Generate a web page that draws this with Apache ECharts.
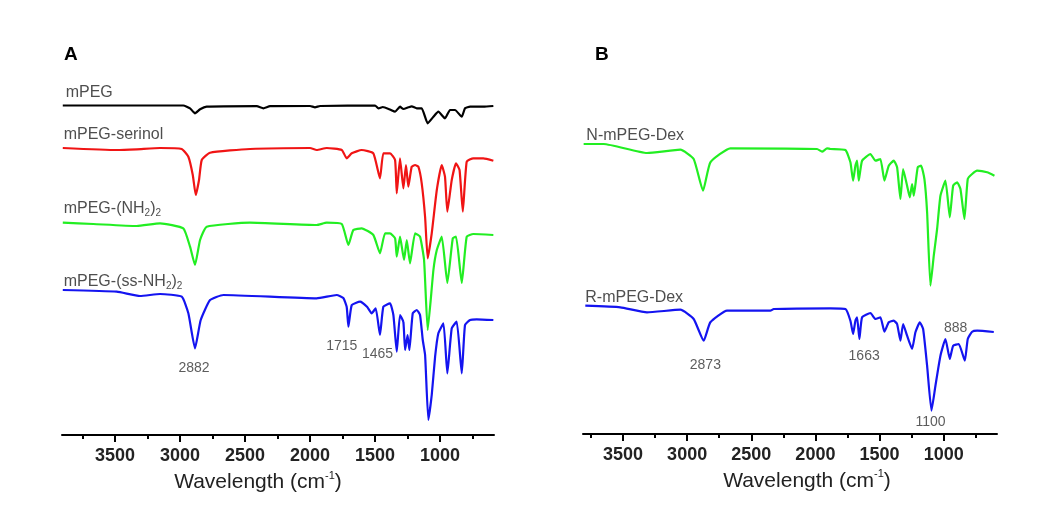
<!DOCTYPE html>
<html><head><meta charset="utf-8">
<script src="https://cdn.jsdelivr.net/npm/echarts@6/dist/echarts.min.js"></script>
<style>html,body{margin:0;padding:0;background:#fff}#c{width:1062px;height:524px}</style>
</head><body><div id="c"></div>
<script>
// ---- tick values ----
const majorTicks = [3500, 3000, 2500, 2000, 1500, 1000];
const minorTicks = [3750, 3250, 2750, 2250, 1750, 1250, 750];
const rangeA = [585, 3908];
const rangeB = [584, 3812];

// ---- spectra: [wavenumber (cm-1), offset transmittance (a.u.)] ----
const mPEG = [[3902,329.5],[3487,329.5],[2975,329.5],[2923,326.7],[2885,321.7],[2846,325.7],[2795,328.3],[2410,328.8],[2359,326.7],[2308,328.8],[2000,329],[1962,327.7],[1923,329],[1500,329.5],[1474,326.7],[1440,328],[1385,325.5],[1346,323.3],[1308,328.3],[1282,326],[1244,327.7],[1218,328.7],[1179,326.7],[1141,326.7],[1095,311.7],[1051,318.3],[1013,323.3],[962,316.7],[923,325],[885,325],[833,318.3],[808,326.7],[769,328.3],[667,328.3],[590,329]];
const mPEGserinol = [[3902,287],[3487,285],[3333,285.7],[3154,287],[2987,286],[2936,278.3],[2902,260],[2879,240],[2854,255],[2833,275],[2769,282.3],[2462,286],[2000,287],[1949,285],[1872,287],[1756,285],[1718,276.7],[1679,281.7],[1603,285],[1513,281.7],[1462,256.7],[1436,281.7],[1385,281.7],[1346,275],[1333,241.7],[1308,276.7],[1282,246.7],[1262,270],[1244,248.3],[1218,268.3],[1192,270],[1167,268.3],[1141,251.7],[1115,218],[1095,176.7],[1064,201.7],[1025,245],[987,270],[962,258.3],[944,223.3],[910,255],[877,271.7],[850,265],[825,223.3],[795,273.3],[744,276.7],[667,276.7],[590,274.3]];
const mPEGNH2 = [[3902,212.3],[3667,211],[3333,209],[3154,211.7],[2975,206.7],[2923,188.3],[2885,170],[2846,195],[2795,208.3],[2462,212.3],[1949,210],[1872,212.3],[1756,211],[1705,190],[1667,205],[1603,206.7],[1513,200],[1462,181.7],[1423,201.7],[1385,201.7],[1346,196.7],[1333,178.3],[1308,198.3],[1277,175],[1256,195],[1231,171.7],[1192,201.7],[1154,198.3],[1123,175],[1095,105],[1051,165],[1025,185],[987,198.3],[944,152],[902,196.7],[877,198.3],[833,152],[795,198.3],[744,201],[590,200]];
const mPEGssNH2 = [[3902,145],[3487,143.3],[3308,139],[3154,141],[2987,138.3],[2936,121.7],[2885,86.7],[2841,115],[2769,135],[2667,140],[1949,136.7],[1795,140],[1744,137],[1718,128],[1705,108.3],[1679,130],[1615,133.3],[1560,128],[1526,121.7],[1495,126.7],[1462,100],[1436,128.3],[1385,131.7],[1359,120],[1333,83.3],[1308,120],[1282,113],[1269,85],[1250,100],[1236,85],[1210,121.7],[1179,125],[1154,120],[1133,95],[1115,80],[1090,15],[1064,40],[1038,78.3],[1013,101.7],[974,111.7],[944,61.7],[910,106.7],[872,113.3],[833,61.7],[808,110],[769,115],[718,115.7],[590,115]];
const NmPEGDex = [[3807,290],[3651,290],[3313,281],[3053,284.3],[2949,275],[2876,243.3],[2819,271.7],[2663,285.7],[1987,285],[1948,282.3],[1909,285.7],[1883,285],[1766,284],[1727,271.7],[1706,253.3],[1688,268.3],[1675,273.3],[1662,253.3],[1636,273.3],[1571,280],[1532,273.3],[1493,275],[1462,253.3],[1428,268.3],[1389,273.3],[1363,266.7],[1337,235],[1316,265],[1285,248.3],[1264,236.7],[1246,250],[1233,238.3],[1202,266.7],[1176,268.3],[1150,255],[1129,221.7],[1103,148.3],[1077,178.3],[1051,205],[1025,238.3],[986,253.3],[952,216.7],[926,248.3],[895,251.7],[869,245],[838,215],[812,255],[778,260],[739,263.3],[661,261.7],[604,258.3]];
const RmPEGDex = [[3794,128.3],[3521,126.7],[3313,121.7],[3053,124.3],[2949,115],[2871,93.3],[2819,111.7],[2689,123.3],[2351,123.3],[2325,125],[1883,125.7],[1766,125],[1727,113.3],[1706,100],[1688,113.3],[1675,116.7],[1657,95],[1636,116.7],[1571,121],[1532,115],[1493,116.7],[1462,102.3],[1428,111.7],[1389,113.3],[1363,110],[1337,93.3],[1316,110],[1285,98.3],[1246,85],[1220,101.7],[1186,111.7],[1160,105],[1129,68.3],[1095,23.3],[1064,48.3],[1025,78.3],[986,95],[952,75],[926,88.3],[882,90],[835,73.3],[812,95],[778,102.3],[739,103.3],[609,102]];

// ---- text labels: [text, wavenumber, value] ----
const seriesLabelsA = [['mPEG',3880,342],['mPEG-serinol',3895,300],['mPEG-(NH{s|2})' + '{s|2}',3895,226.7],['mPEG-(ss-NH{s|2})' + '{s|2}',3895,153.7]];
const seriesLabelsB = [['N-mPEG-Dex',3786,298],['R-mPEG-Dex',3794,136.7]];
const peakLabelsA = [['2882',2892,67.3],['1715',1756,89.3],['1465',1481,80.7]];
const peakLabelsB = [['2873',2858,69.3],['1663',1620,78.3],['1100',1103,11.7],['888',907,105.7]];

const FONT = 'Liberation Sans, Arial, sans-serif';
const chart = echarts.init(document.getElementById('c'), null, {renderer: 'canvas'});

function mainX(grid, range, padding, gap) {
  return {
    gridIndex: grid, type: 'value', position: 'bottom', inverse: true,
    min: range[0], max: range[1],
    axisLine: {show: true, onZero: false, lineStyle: {color: '#000', width: 2}},
    axisTick: {show: true, customValues: majorTicks, length: 7, lineStyle: {color: '#000', width: 2}},
    axisLabel: {show: true, customValues: majorTicks, formatter: v => String(v), fontSize: 18, fontWeight: 'bold', color: '#222', margin: 12, fontFamily: FONT},
    splitLine: {show: false},
    name: 'Wavelength (cm{sup|-1})', nameLocation: 'middle', nameGap: gap,
    nameTextStyle: {fontSize: 21, color: '#222', fontFamily: FONT, lineHeight: 24, padding: padding,
      rich: {sup: {fontSize: 11, lineHeight: 11, verticalAlign: 'top', color: '#222', fontFamily: FONT}}}
  };
}
function minorX(grid, range) {
  return {
    gridIndex: grid, type: 'value', position: 'bottom', inverse: true, offset: 0,
    min: range[0], max: range[1],
    axisLine: {show: false},
    axisTick: {show: true, customValues: minorTicks, length: 4, lineStyle: {color: '#000', width: 2}},
    axisLabel: {show: false}, splitLine: {show: false}
  };
}
function lineSeries(data, color, xi, yi) {
  return {type: 'line', data: data, xAxisIndex: xi, yAxisIndex: yi, symbol: 'none', showSymbol: false,
    smooth: 0.15, lineStyle: {color: color, width: 2.2}, itemStyle: {color: color}, silent: true};
}
function textSeries(list, xi, yi, opts) {
  return {type: 'scatter', xAxisIndex: xi, yAxisIndex: yi, symbolSize: 0, silent: true, clip: false,
    data: list.map(d => ({value: [d[1], d[2]], name: d[0]})),
    label: Object.assign({show: true, formatter: p => p.name, fontFamily: FONT}, opts)};
}
const subRich = {s: {fontSize: 10, lineHeight: 10, verticalAlign: 'bottom', color: '#222', fontFamily: FONT}};

chart.setOption({
  animation: false,
  backgroundColor: '#fff',
  title: [
    {text: 'A', left: 64, top: 45, padding: 0, textStyle: {fontSize: 19, fontWeight: 'bold', color: '#000', fontFamily: FONT}},
    {text: 'B', left: 595, top: 45, padding: 0, textStyle: {fontSize: 19, fontWeight: 'bold', color: '#000', fontFamily: FONT}}
  ],
  grid: [
    {left: 62, top: 60, width: 432, height: 375},
    {left: 583, top: 59, width: 414, height: 375}
  ],
  xAxis: [mainX(0, rangeA, [0, 40, 0, 0], 35), minorX(0, rangeA), mainX(1, rangeB, [0, 0, 0, 34], 33), minorX(1, rangeB)],
  yAxis: [
    {gridIndex: 0, type: 'value', min: 0, max: 375, show: false},
    {gridIndex: 1, type: 'value', min: 0, max: 375, show: false}
  ],
  series: [
    lineSeries(mPEGssNH2, '#1414f0', 0, 0),
    lineSeries(mPEGNH2, '#22ee22', 0, 0),
    lineSeries(mPEGserinol, '#f01414', 0, 0),
    lineSeries(mPEG, '#000000', 0, 0),
    lineSeries(RmPEGDex, '#1414f0', 2, 1),
    lineSeries(NmPEGDex, '#22ee22', 2, 1),
    textSeries(seriesLabelsA, 0, 0, {position: 'right', distance: 0, fontSize: 16, color: '#222', lineHeight: 20, rich: subRich}),
    textSeries(seriesLabelsB, 2, 1, {position: 'right', distance: 0, fontSize: 16, color: '#222', lineHeight: 20}),
    textSeries(peakLabelsA, 0, 0, {position: 'inside', fontSize: 14, color: '#333'}),
    textSeries(peakLabelsB, 2, 1, {position: 'inside', fontSize: 14, color: '#333'})
  ]
});
</script>
</body></html>
